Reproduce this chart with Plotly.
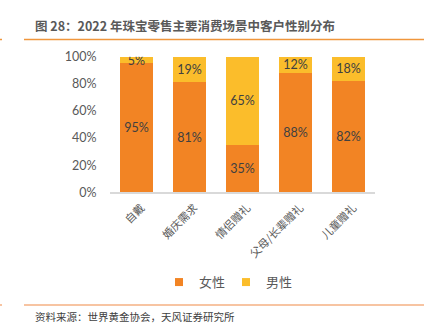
import plotly.graph_objects as go

W, H = 428, 334

categories = ["自戴", "婚庆需求", "情侣赠礼", "父母/长辈赠礼", "儿童赠礼"]
female = [95, 81, 35, 88, 82]
male = [5, 19, 65, 12, 18]
series_names = ["女性", "男性"]
title_text = "图 28：2022 年珠宝零售主要消费场景中客户性别分布"
source_text = "资料来源：世界黄金协会，天风证券研究所"

FONT = "Lato, 'Noto Sans CJK SC', sans-serif"
CJK = "'Noto Sans CJK SC', sans-serif"
ORANGE = "#F28424"
YELLOW = "#FBBD2B"


def px_x(x):
    return x / W


def px_y(y):
    return 1 - y / H


fig = go.Figure()
for name, vals, color in [(series_names[0], female, ORANGE), (series_names[1], male, YELLOW)]:
    fig.add_trace(go.Bar(
        x=categories,
        y=[v / 100 for v in vals],
        name=name,
        marker=dict(color=color, line=dict(width=0)),
        text=[f"{v}%" for v in vals],
        textposition="inside",
        insidetextanchor="middle",
        constraintext="none",
        textfont=dict(family=FONT, size=12.5, color="#404040"),
        hoverinfo="skip",
        showlegend=False,
    ))

# compact square legend keys
for name, color in [(series_names[0], ORANGE), (series_names[1], YELLOW)]:
    fig.add_trace(go.Scatter(
        x=[None], y=[None], mode="markers", name=name,
        marker=dict(symbol="square", size=8, color=color),
        showlegend=True, hoverinfo="skip",
    ))

fig.update_layout(
    width=W, height=H,
    margin=dict(l=0, r=0, t=0, b=0),
    paper_bgcolor="white", plot_bgcolor="white",
    barmode="stack",
    bargap=0.377,
    legend=dict(
        orientation="h", x=px_x(226), y=px_y(287),
        xanchor="center", yanchor="middle",
        font=dict(family=CJK, size=13, color="#595959"),
        itemwidth=30, traceorder="normal",
        entrywidth=22, entrywidthmode="pixels",
    ),
    xaxis=dict(
        domain=[px_x(110), px_x(375)],
        showline=True, linecolor="#D9D9D9", linewidth=1.5,
        ticks="", tickangle=-45,
        ticklabelshift=5, ticklabelstandoff=3,
        tickfont=dict(family=CJK, size=11, color="#595959"),
        showgrid=False,
    ),
    yaxis=dict(
        domain=[px_y(193), px_y(51)],
        range=[0, 1], dtick=0.2, tickformat=".0%",
        showgrid=False, showline=False, zeroline=False,
        ticks="outside", ticklen=10, tickcolor="rgba(0,0,0,0)",
        tickfont=dict(family=FONT, size=12.5, color="#595959"),
    ),
    shapes=[
        dict(type="line", xref="paper", yref="paper",
             x0=px_x(24), x1=px_x(424), y0=px_y(33), y1=px_y(33),
             line=dict(color="#F0963C", width=1.5)),
        dict(type="line", xref="paper", yref="paper",
             x0=0, x1=px_x(2), y0=px_y(33), y1=px_y(33),
             line=dict(color="#F0963C", width=1.5)),
        dict(type="line", xref="paper", yref="paper",
             x0=px_x(24), x1=px_x(424), y0=px_y(311), y1=px_y(311),
             line=dict(color="#F4B183", width=1.5)),
        dict(type="line", xref="paper", yref="paper",
             x0=0, x1=px_x(2), y0=px_y(311), y1=px_y(311),
             line=dict(color="#F4B183", width=1.5)),
    ],
    annotations=[
        dict(text=f"<b>{title_text}</b>", xref="paper", yref="paper",
             x=px_x(33), y=px_y(18), xanchor="left", yanchor="middle",
             showarrow=False, font=dict(family=CJK, size=12.5, color="#595959")),
        dict(text=source_text, xref="paper", yref="paper",
             x=px_x(33), y=px_y(323), xanchor="left", yanchor="middle",
             showarrow=False, font=dict(family=CJK, size=10.5, color="#404040")),
    ],
)

fig.write_html("out.html")
